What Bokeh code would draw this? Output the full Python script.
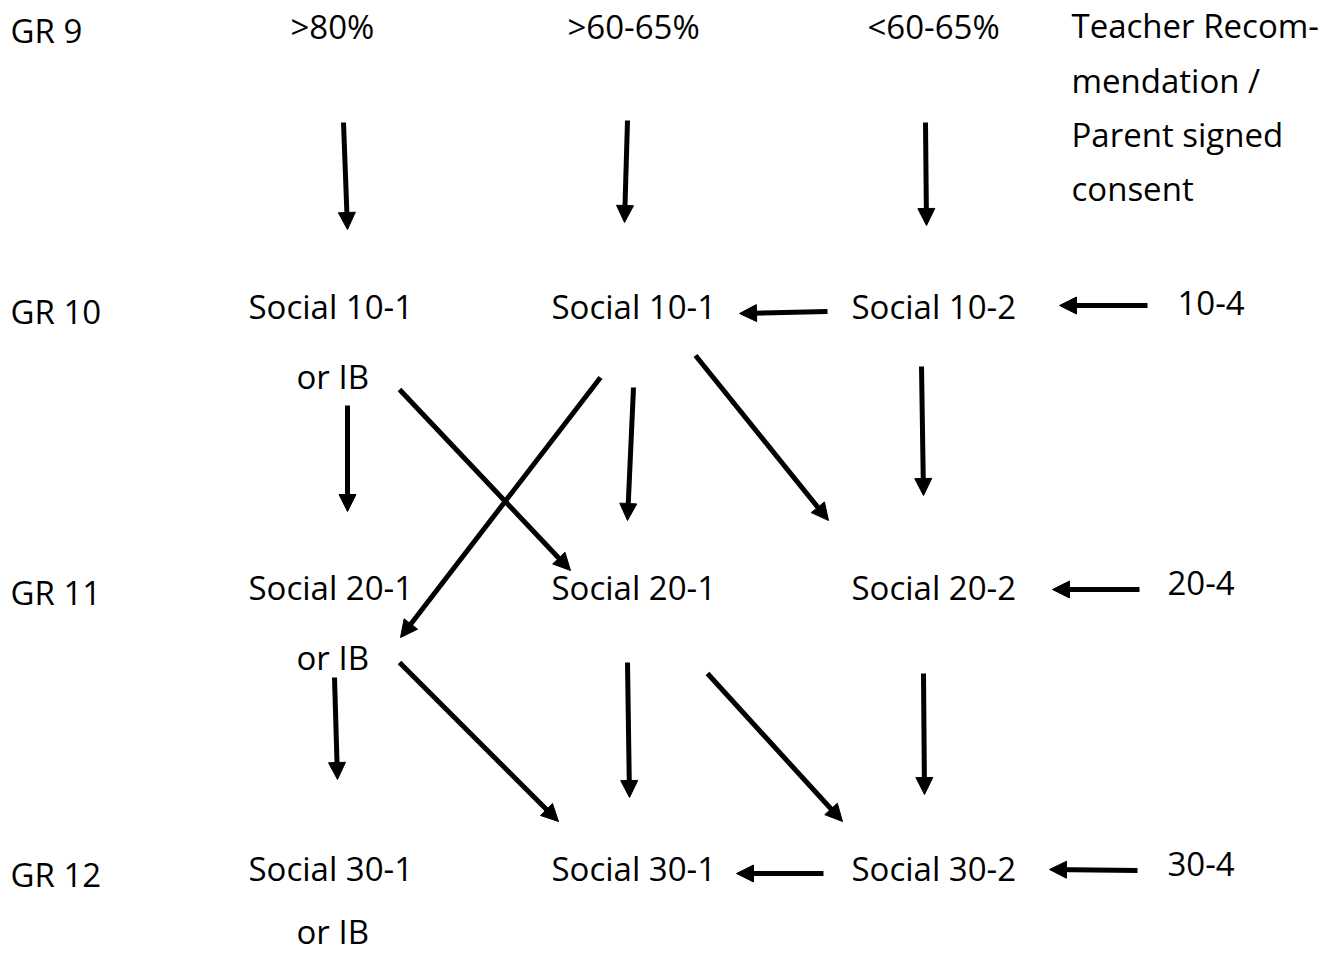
from bokeh.plotting import figure
from bokeh.models import ColumnDataSource, Arrow, NormalHead, Range1d
from bokeh.core.properties import value
from bokeh.embed import file_html
from bokeh.resources import INLINE

# ---- texts (label, left x, baseline y) ----
grade_labels = ["GR 9", "GR 10", "GR 11", "GR 12"]
grade_x = [10, 10, 10, 10]
grade_y = [43, 324, 605, 887]

header_labels = [">80%", ">60-65%", "<60-65%"]
header_x = [290, 567, 867]
header_y = [39, 39, 39]

teacher_lines = ["Teacher  Recom-", "mendation /", "Parent signed", "consent"]
teacher_x = [1071, 1071, 1071, 1071]
teacher_y = [38, 93, 147, 201]

course_labels = ["Social 10-1", "or IB", "Social 10-1", "Social 10-2", "10-4",
                 "Social 20-1", "or IB", "Social 20-1", "Social 20-2", "20-4",
                 "Social 30-1", "or IB", "Social 30-1", "Social 30-2", "30-4"]
course_x = [248, 296, 551, 851, 1177,
            248, 296, 551, 851, 1167,
            248, 296, 551, 851, 1167]
course_y = [319, 389, 319, 319, 315,
            600, 670, 600, 600, 595,
            881, 944, 881, 881, 876]

# ---- arrows (start -> tip) ----
arrow_x0 = [343, 627, 925, 827, 1147, 347, 399, 600, 633, 695, 921, 1139, 334, 399, 627, 707, 923, 823, 1137]
arrow_y0 = [122, 120, 122, 311, 305, 405, 389, 377, 387, 355, 366, 589, 677, 662, 662, 673, 673, 873, 870]
arrow_x1 = [347, 624, 926, 739, 1059, 347, 570, 400, 627, 828, 923, 1052, 337, 558, 629, 842, 924, 736, 1049]
arrow_y1 = [229, 222, 225, 313, 305, 511, 570, 637, 520, 520, 495, 589, 779, 821, 797, 821, 794, 873, 869]

W, H = 1324, 955
p = figure(width=W, height=H, output_backend="svg", toolbar_location=None,
           x_range=Range1d(0, W), y_range=Range1d(H, 0),
           min_border=0, outline_line_color=None, background_fill_color="white",
           border_fill_color="white")
p.xaxis.visible = False
p.yaxis.visible = False
p.grid.visible = False

font = value("Open Sans")
fs = "33px"
BASELINE_SHIFT = 13  # rendered baseline sits this far below the anchor

for labels, xs, ys in [(grade_labels, grade_x, grade_y),
                       (header_labels, header_x, header_y),
                       (teacher_lines, teacher_x, teacher_y),
                       (course_labels, course_x, course_y)]:
    src = ColumnDataSource(dict(x=xs, y=[v - BASELINE_SHIFT for v in ys], text=labels))
    p.text(x="x", y="y", text="text", source=src, text_font=font, text_font_size=fs,
           text_color="black", text_align="left", text_baseline="alphabetic")

asrc = ColumnDataSource(dict(x0=arrow_x0, y0=arrow_y0, x1=arrow_x1, y1=arrow_y1))
p.add_layout(Arrow(end=NormalHead(size=17, fill_color="black", line_color="black", line_width=1),
                   x_start="x0", y_start="y0", x_end="x1", y_end="y1", source=asrc,
                   line_color="black", line_width=5))

open("out.html", "w").write(file_html(p, INLINE))
